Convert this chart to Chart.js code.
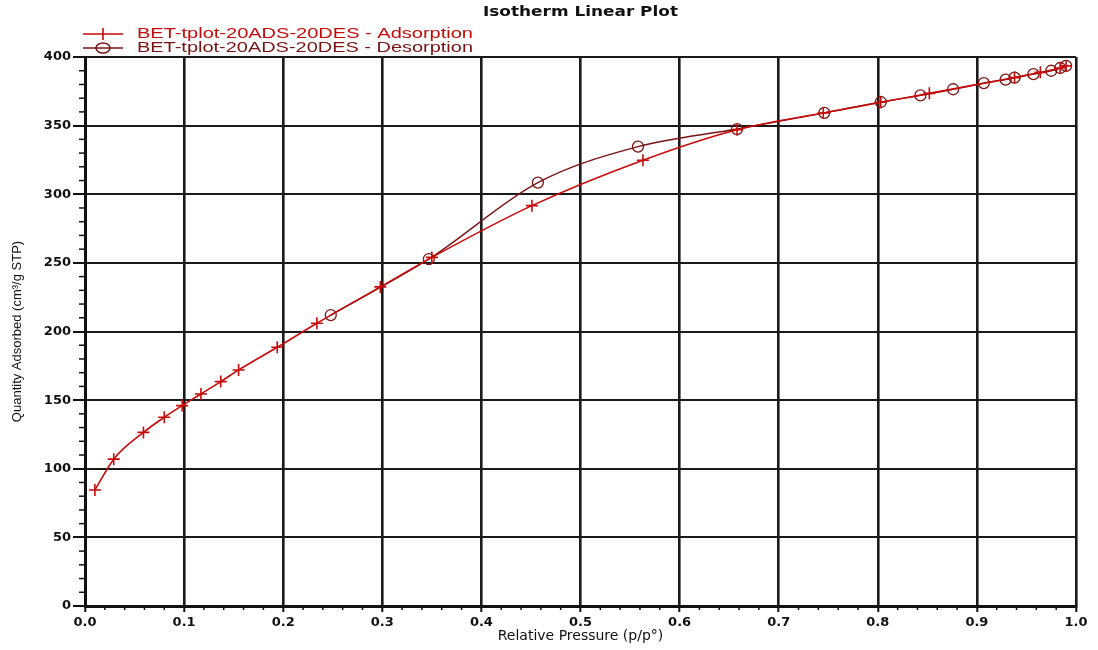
<!DOCTYPE html>
<html>
<head>
<meta charset="utf-8">
<script src="https://cdn.jsdelivr.net/npm/chart.js@4.4.1/dist/chart.umd.min.js"></script>
<style>
  html, body { margin: 0; padding: 0; background: #ffffff; }
  #wrap { width: 1098px; height: 650px; }
</style>
</head>
<body>
<div id="wrap"><canvas id="c" width="1098" height="650"></canvas></div>
<script>
// ---- Data ----
const chartTitle = "Isotherm Linear Plot";
const adsLabel = "BET-tplot-20ADS-20DES - Adsorption";
const desLabel = "BET-tplot-20ADS-20DES - Desorption";
const xTitle = "Relative Pressure (p/p°)";
const yTitle = "Quantity Adsorbed (cm³/g STP)";

const adsX = [0.010, 0.029, 0.059, 0.080, 0.098, 0.117, 0.137, 0.155, 0.194, 0.234, 0.298, 0.350, 0.451, 0.563, 0.658, 0.745, 0.803, 0.852, 0.938, 0.964, 0.984, 0.990];
const adsY = [84.5, 107.0, 126.5, 137.5, 146.0, 154.5, 163.5, 172.0, 188.5, 206.0, 232.5, 254.0, 291.7, 324.8, 347.0, 359.2, 367.0, 373.5, 385.0, 388.8, 392.0, 393.5];

const desX = [0.248, 0.347, 0.457, 0.558, 0.658, 0.746, 0.803, 0.843, 0.876, 0.907, 0.929, 0.938, 0.957, 0.975, 0.984, 0.990];
const desY = [212.0, 252.8, 308.5, 334.7, 347.5, 359.3, 367.2, 372.0, 376.5, 381.0, 383.5, 385.0, 387.5, 390.0, 392.0, 393.5];

const xMin = 0, xMax = 1.0, xStep = 0.1, xMinorStep = 0.02;
const yMin = 0, yMax = 400, yStep = 50, yMinorStep = 10;

const adsColor = '#c80a0a';
const desColor = '#7a1414';

const toPts = (xs, ys) => xs.map((x, i) => ({ x: x, y: ys[i] }));

// ---- Plugin: title, legend, minor ticks ----
const decor = {
  id: 'decor',
  afterDraw(chart) {
    const ctx = chart.ctx;
    const xs = chart.scales.x, ys = chart.scales.y;
    const area = chart.chartArea;
    ctx.save();
    // minor ticks
    ctx.strokeStyle = '#111';
    ctx.lineWidth = 1.5;
    const nx = Math.round((xMax - xMin) / xMinorStep);
    for (let i = 0; i <= nx; i++) {
      if (i % 5 === 0) continue;
      const px = xs.getPixelForValue(xMin + i * xMinorStep);
      ctx.beginPath(); ctx.moveTo(px, area.bottom); ctx.lineTo(px, area.bottom + 4); ctx.stroke();
    }
    const ny = Math.round((yMax - yMin) / yMinorStep);
    for (let i = 0; i <= ny; i++) {
      if (i % 5 === 0) continue;
      const py = ys.getPixelForValue(yMin + i * yMinorStep);
      ctx.beginPath(); ctx.moveTo(area.left - 6, py); ctx.lineTo(area.left, py); ctx.stroke();
    }
    // title
    ctx.fillStyle = '#111';
    ctx.textBaseline = 'middle';
    ctx.font = 'bold 14px "DejaVu Sans", sans-serif';
    let w = ctx.measureText(chartTitle).width;
    ctx.save();
    ctx.translate((area.left + area.right) / 2 - 195 / 2, 12);
    ctx.scale(195 / w, 1);
    ctx.textAlign = 'left';
    ctx.fillText(chartTitle, 0, 0);
    ctx.restore();
    // legend
    const rows = [
      { label: adsLabel, color: adsColor, y: 34, style: 'cross' },
      { label: desLabel, color: desColor, y: 48, style: 'circle' }
    ];
    ctx.font = '15px "Liberation Sans", Arial, sans-serif';
    rows.forEach(r => {
      ctx.strokeStyle = r.color;
      ctx.lineWidth = 1.6;
      ctx.beginPath(); ctx.moveTo(83, r.y); ctx.lineTo(123, r.y); ctx.stroke();
      if (r.style === 'cross') {
        ctx.beginPath();
        ctx.moveTo(103, r.y - 6); ctx.lineTo(103, r.y + 6);
        ctx.stroke();
      } else {
        ctx.beginPath();
        ctx.ellipse(103, r.y, 7, 5, 0, 0, Math.PI * 2);
        ctx.stroke();
      }
      ctx.fillStyle = r.color;
      const tw = ctx.measureText(r.label).width;
      ctx.save();
      ctx.translate(137, r.y);
      ctx.scale(336 / tw, 1);
      ctx.textAlign = 'left';
      ctx.fillText(r.label, 0, 0);
      ctx.restore();
    });
    ctx.restore();
  }
};

new Chart(document.getElementById('c'), {
  type: 'line',
  data: {
    datasets: [
      {
        label: adsLabel,
        data: toPts(adsX, adsY),
        borderColor: adsColor,
        backgroundColor: 'rgba(0,0,0,0)',
        borderWidth: 1.6,
        pointStyle: 'cross',
        pointRadius: 6,
        pointBorderWidth: 1.6,
        pointBorderColor: adsColor,
        cubicInterpolationMode: 'monotone',
        fill: false
      },
      {
        label: desLabel,
        data: toPts(desX, desY),
        borderColor: desColor,
        backgroundColor: 'rgba(0,0,0,0)',
        borderWidth: 1.4,
        pointStyle: 'circle',
        pointRadius: 5.5,
        pointBorderWidth: 1.3,
        pointBorderColor: desColor,
        pointBackgroundColor: 'rgba(0,0,0,0)',
        cubicInterpolationMode: 'monotone',
        fill: false
      }
    ]
  },
  options: {
    responsive: false,
    animation: false,
    devicePixelRatio: 1,
    layout: { padding: { top: 57, right: 22, left: 0, bottom: 0 } },
    plugins: {
      legend: { display: false },
      title: { display: false },
      tooltip: { enabled: false }
    },
    scales: {
      x: {
        type: 'linear',
        min: xMin, max: xMax,
        border: { display: true, color: '#111', width: 3 },
        grid: { color: '#1a1a1a', lineWidth: 2.6, tickLength: 6, tickColor: '#111', tickWidth: 2 },
        ticks: {
          stepSize: xStep,
          color: '#111',
          padding: 3,
          maxRotation: 0,
          autoSkip: false,
          font: { family: '"DejaVu Sans", sans-serif', size: 13, weight: 'bold' },
          callback: v => Number(v).toFixed(1)
        },
        title: {
          display: true,
          text: xTitle,
          color: '#111',
          font: { family: '"DejaVu Sans", sans-serif', size: 14 },
          padding: { top: 0, bottom: 5 }
        },
        afterFit: s => { s.height = 44; }
      },
      y: {
        type: 'linear',
        min: yMin, max: yMax,
        border: { display: true, color: '#111', width: 3 },
        grid: { color: '#1a1a1a', lineWidth: 2, tickLength: 12, tickColor: '#111', tickWidth: 2 },
        ticks: {
          stepSize: yStep,
          color: '#111',
          padding: 2,
          autoSkip: false,
          font: { family: '"DejaVu Sans", sans-serif', size: 13, weight: 'bold' }
        },
        title: {
          display: true,
          text: yTitle,
          color: '#111',
          font: { family: '"Liberation Sans", Arial, sans-serif', size: 13 },
          padding: { top: 10, bottom: 0 }
        },
        afterFit: s => { s.width = 85; }
      }
    }
  },
  plugins: [decor]
});
</script>
</body>
</html>
